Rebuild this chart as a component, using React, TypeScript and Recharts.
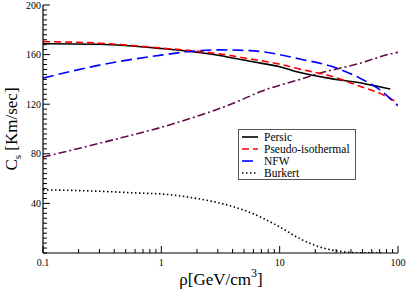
import { LineChart, Line, XAxis, YAxis, Legend } from "recharts";

// values (x in GeV/cm^3, y in Km/sec)
const persic = [
  { x: 0.1, y: 168.7 },
  { x: 0.3, y: 168.3 },
  { x: 1.0, y: 164.9 },
  { x: 1.75, y: 162.5 },
  { x: 3.1, y: 159.3 },
  { x: 5.6, y: 154.6 },
  { x: 10, y: 150.2 },
  { x: 14.8, y: 145.6 },
  { x: 26.5, y: 140.8 },
  { x: 47.6, y: 137.3 },
  { x: 70, y: 134 },
  { x: 86, y: 132.2 },
];

const pseudoIso = [
  { x: 0.1, y: 170.5 },
  { x: 0.3, y: 169.2 },
  { x: 1.0, y: 165.3 },
  { x: 1.75, y: 163.3 },
  { x: 3.1, y: 160.6 },
  { x: 5.6, y: 156.5 },
  { x: 10, y: 152.3 },
  { x: 14.8, y: 148.3 },
  { x: 26.5, y: 142.9 },
  { x: 47.6, y: 134.5 },
  { x: 70, y: 128.8 },
  { x: 100, y: 121 },
];

const nfw = [
  { x: 0.1, y: 141 },
  { x: 0.3, y: 151.5 },
  { x: 1.0, y: 159.6 },
  { x: 1.75, y: 162.5 },
  { x: 3.1, y: 163.8 },
  { x: 5.6, y: 163.2 },
  { x: 10, y: 160 },
  { x: 14.8, y: 156.4 },
  { x: 26.5, y: 151 },
  { x: 47.6, y: 141 },
  { x: 70, y: 131.7 },
  { x: 100, y: 118.7 },
];

const burkert = [
  { x: 0.1, y: 51 },
  { x: 0.3, y: 49.8 },
  { x: 0.66, y: 48.3 },
  { x: 1.0, y: 47.6 },
  { x: 2.12, y: 43.5 },
  { x: 3.81, y: 38.1 },
  { x: 5.63, y: 32.7 },
  { x: 10.1, y: 20.8 },
  { x: 14.8, y: 11.6 },
  { x: 21.9, y: 4.8 },
  { x: 32.3, y: 1.3 },
  { x: 44.9, y: 0.2 },
  { x: 74.5, y: 0 },
];

// dash-dot curve without a legend entry
const dashDot = [
  { x: 0.1, y: 77.4 },
  { x: 0.347, y: 90 },
  { x: 1.26, y: 104.2 },
  { x: 4.62, y: 123 },
  { x: 6.82, y: 130 },
  { x: 14.8, y: 140 },
  { x: 21.9, y: 145 },
  { x: 47.6, y: 153 },
  { x: 90.4, y: 161 },
  { x: 100, y: 161.8 },
];

const xMajorTicks = [0.1, 1, 10, 100];
const xTicks = [
  0.1, 0.2, 0.3, 0.4, 0.5, 0.6, 0.7, 0.8, 0.9,
  1, 2, 3, 4, 5, 6, 7, 8, 9,
  10, 20, 30, 40, 50, 60, 70, 80, 90, 100,
];
const yMajorTicks = [40, 80, 120, 160, 200];
const yTicks = Array.from({ length: 51 }, (_, i) => i * 4);

const SERIF = "'Times New Roman', 'Liberation Serif', 'DejaVu Serif', serif";

const legendSeries = [
  { name: "Persic", data: persic, color: "#000000", dash: undefined as string | undefined },
  { name: "Pseudo-isothermal", data: pseudoIso, color: "#ff0000", dash: "7 4" },
  { name: "NFW", data: nfw, color: "#0000ff", dash: "11 5" },
  { name: "Burkert", data: burkert, color: "#000000", dash: "1.5 2.5" },
];

function BottomTick({ x, y, payload }: any) {
  const major = xMajorTicks.includes(payload.value);
  return (
    <g>
      <line x1={x} x2={x} y1={y} y2={y - (major ? 7 : 4)} stroke="#000" strokeWidth={1} />
      {major && (
        <text x={x} y={y + 13} textAnchor="middle" fontSize={10} style={{ fontFamily: SERIF }} fill="#000">
          {payload.value}
        </text>
      )}
    </g>
  );
}

function TopTick({ x, y, payload }: any) {
  const major = xMajorTicks.includes(payload.value);
  return <line x1={x} x2={x} y1={y} y2={y + (major ? 7 : 4)} stroke="#000" strokeWidth={1} />;
}

function LeftTick({ x, y, payload }: any) {
  const major = yMajorTicks.includes(payload.value);
  return (
    <g>
      <line x1={x} x2={x + (major ? 7 : 4)} y1={y} y2={y} stroke="#000" strokeWidth={1} />
      {major && (
        <text x={x - 2} y={y + 3.5} textAnchor="end" fontSize={10} style={{ fontFamily: SERIF }} fill="#000">
          {payload.value}
        </text>
      )}
    </g>
  );
}

function RightTick({ x, y, payload }: any) {
  const major = yMajorTicks.includes(payload.value);
  return <line x1={x} x2={x - (major ? 7 : 4)} y1={y} y2={y} stroke="#000" strokeWidth={1} />;
}

function LegendBox() {
  return (
    <div
      style={{
        boxSizing: "border-box",
        width: 118,
        height: 51,
        border: "1px solid #555",
        background: "#fff",
        paddingTop: 1,
        fontFamily: SERIF,
        fontSize: 11.5,
        lineHeight: "12px",
        color: "#000",
      }}
    >
      {legendSeries.map((s) => (
        <div key={s.name} style={{ display: "flex", alignItems: "center", height: 12 }}>
          <svg width={16} height={12} style={{ marginLeft: 3, flex: "none" }}>
            <line x1={0} x2={16} y1={6} y2={6} stroke={s.color} strokeWidth={1.6} strokeDasharray={s.dash} />
          </svg>
          <span style={{ marginLeft: 6, whiteSpace: "nowrap" }}>{s.name}</span>
        </div>
      ))}
    </div>
  );
}

const xTitle = () => (
  <text x={221} y={285} textAnchor="middle" fontSize={17} style={{ fontFamily: SERIF }} fill="#000">
    ρ[GeV/cm
    <tspan dy={-8} fontSize={12}>3</tspan>
    <tspan dy={8}>]</tspan>
  </text>
);

const yTitle = () => (
  <text
    x={17}
    y={129}
    transform="rotate(-90, 17, 129)"
    textAnchor="middle"
    fontSize={17}
    style={{ fontFamily: SERIF }}
    fill="#000"
  >
    C<tspan dy={4} fontSize={11}>s</tspan>
    <tspan dy={-4}> [Km/sec]</tspan>
  </text>
);

export default function App() {
  return (
    <div style={{ position: "absolute", left: 0, top: 0, width: 407, height: 292, background: "#fff", fontFamily: SERIF }}>
      <LineChart width={407} height={292} margin={{ top: 5, right: 9, bottom: 0, left: 0 }}>
        <XAxis
          xAxisId="b"
          dataKey="x"
          type="number"
          scale="log"
          domain={[0.1, 100]}
          allowDataOverflow
          ticks={xTicks}
          interval={0}
          tickSize={0}
          tickMargin={0}
          height={39}
          tickLine={false}
          axisLine={{ stroke: "#000", strokeWidth: 1.2 }}
          tick={(p: any) => <BottomTick {...p} />}
          label={{ content: xTitle }}
        />
        <XAxis
          xAxisId="t"
          orientation="top"
          dataKey="x"
          type="number"
          scale="log"
          domain={[0.1, 100]}
          allowDataOverflow
          ticks={xTicks}
          interval={0}
          tickSize={0}
          tickMargin={0}
          height={0}
          tickLine={false}
          axisLine={{ stroke: "#000", strokeWidth: 1.2 }}
          tick={(p: any) => <TopTick {...p} />}
        />
        <YAxis
          yAxisId="l"
          type="number"
          domain={[0, 200]}
          allowDataOverflow
          ticks={yTicks}
          interval={0}
          tickSize={0}
          tickMargin={0}
          width={43}
          tickLine={false}
          axisLine={{ stroke: "#000", strokeWidth: 1.2 }}
          tick={(p: any) => <LeftTick {...p} />}
          label={{ content: yTitle }}
        />
        <YAxis
          yAxisId="r"
          orientation="right"
          type="number"
          domain={[0, 200]}
          allowDataOverflow
          ticks={yTicks}
          interval={0}
          tickSize={0}
          tickMargin={0}
          width={0}
          tickLine={false}
          axisLine={{ stroke: "#000", strokeWidth: 1.2 }}
          tick={(p: any) => <RightTick {...p} />}
        />
        <Line
          xAxisId="b"
          yAxisId="l"
          data={dashDot}
          dataKey="y"
          type="monotone"
          stroke="#670748"
          strokeWidth={1.6}
          strokeDasharray="8 3 2 3"
          dot={false}
          isAnimationActive={false}
          legendType="none"
        />
        {legendSeries.map((s) => (
          <Line
            key={s.name}
            name={s.name}
            xAxisId="b"
            yAxisId="l"
            data={s.data}
            dataKey="y"
            type="monotone"
            stroke={s.color}
            strokeWidth={1.6}
            strokeDasharray={s.dash}
            dot={false}
            isAnimationActive={false}
          />
        ))}
        <Legend
          layout="horizontal"
          verticalAlign="middle"
          align="center"
          content={() => <LegendBox />}
          wrapperStyle={{ left: 238, top: 129, width: 118, height: 51 }}
        />
      </LineChart>
    </div>
  );
}
